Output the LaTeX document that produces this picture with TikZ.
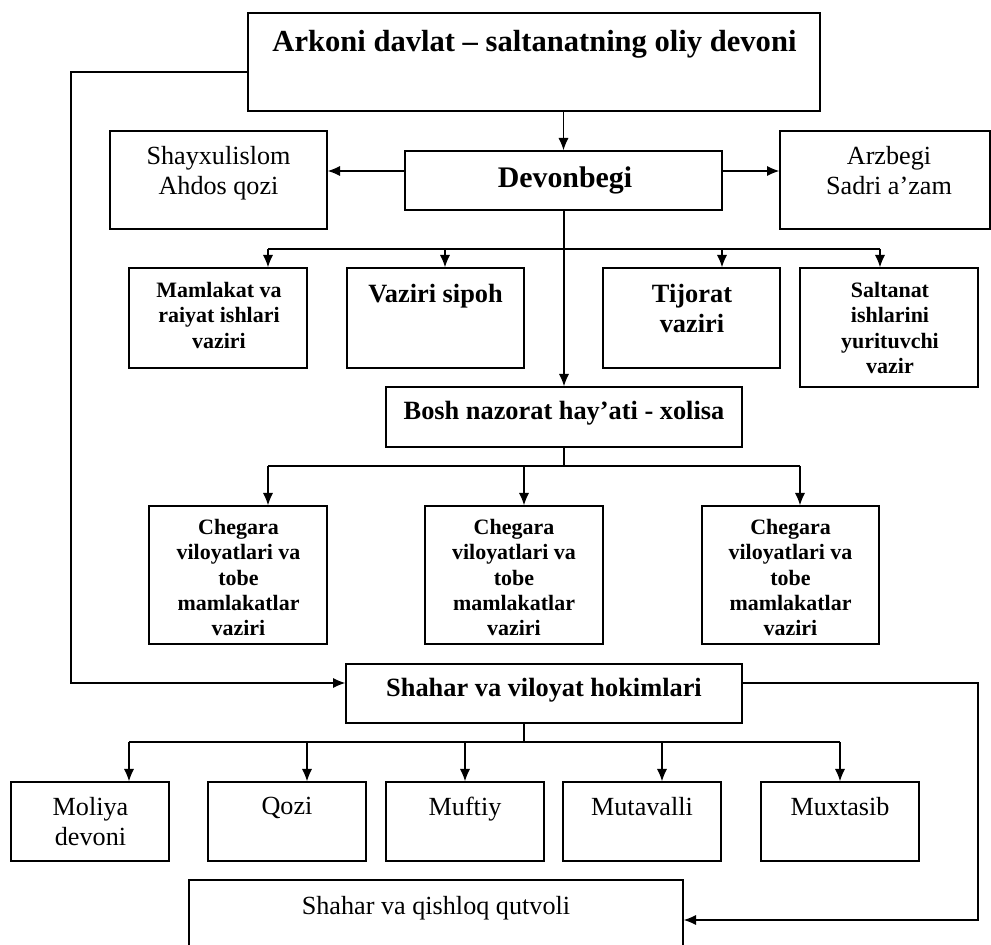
\documentclass[tikz,border=0pt]{standalone}
\usepackage{fontspec}
\setmainfont{Liberation Serif}
\usetikzlibrary{arrows.meta,calc}

\begin{document}
\begin{tikzpicture}[x=0.02cm,y=-0.02cm,
    box/.style={draw,line width=0.8pt,inner sep=0pt},
    lbl/.style={inner sep=0pt,align=center,anchor=north},
    arr/.style={line width=0.7pt,-{Latex[length=7pt,width=5.8pt]}},
    ln/.style={line width=0.7pt},
    big/.style={font=\fontsize{17.4}{20}\selectfont\bfseries},
    mid/.style={font=\fontsize{15}{17}\selectfont\bfseries},
    sml/.style={font=\fontsize{12.5}{14.4}\selectfont\bfseries},
    nrm/.style={font=\fontsize{14.9}{17.2}\selectfont}]
    \clip (0,0) rectangle (991,945);
    % boxes
    \node[box,minimum width=572*0.02cm,minimum height=98*0.02cm] (arkoni) at (534,62) {};
    \node[box,minimum width=217*0.02cm,minimum height=98*0.02cm] (shayx) at (218.5,180) {};
    \node[box,minimum width=317*0.02cm,minimum height=59*0.02cm] (devon) at (563.5,180.5) {};
    \node[box,minimum width=210*0.02cm,minimum height=98*0.02cm] (arz) at (885,180) {};
    \node[box,minimum width=178*0.02cm,minimum height=100*0.02cm] (mam) at (218,318) {};
    \node[box,minimum width=177*0.02cm,minimum height=100*0.02cm] (sipoh) at (435.5,318) {};
    \node[box,minimum width=177*0.02cm,minimum height=100*0.02cm] (tij) at (691.5,318) {};
    \node[box,minimum width=178*0.02cm,minimum height=119*0.02cm] (salt) at (889,327.5) {};
    \node[box,minimum width=356*0.02cm,minimum height=60*0.02cm] (bosh) at (564,417) {};
    \node[box,minimum width=178*0.02cm,minimum height=138*0.02cm] (cheg1) at (238,575) {};
    \node[box,minimum width=178*0.02cm,minimum height=138*0.02cm] (cheg2) at (514,575) {};
    \node[box,minimum width=177*0.02cm,minimum height=138*0.02cm] (cheg3) at (790.5,575) {};
    \node[box,minimum width=396*0.02cm,minimum height=59*0.02cm] (shahar) at (544,693.5) {};
    \node[box,minimum width=158*0.02cm,minimum height=79*0.02cm] (moliya) at (90,821.5) {};
    \node[box,minimum width=158*0.02cm,minimum height=79*0.02cm] (qozi) at (287,821.5) {};
    \node[box,minimum width=158*0.02cm,minimum height=79*0.02cm] (muftiy) at (465,821.5) {};
    \node[box,minimum width=158*0.02cm,minimum height=79*0.02cm] (mutav) at (642,821.5) {};
    \node[box,minimum width=158*0.02cm,minimum height=79*0.02cm] (muxt) at (840,821.5) {};
    \node[box,minimum width=494*0.02cm,minimum height=100*0.02cm] (qutv) at (436,930) {};
    % texts
    \node[lbl,big] (arkoni-t) at (534.5,30) {Arkoni davlat -- saltanatning oliy devoni};
    \node[lbl,nrm] (shayx-t) at (218.5,146) {Shayxulislom\\Ahdos qozi};
    \node[lbl,font=\fontsize{17}{20}\selectfont\bfseries] (devon-t) at (565,166) {Devonbegi};
    \node[lbl,nrm] (arz-t) at (889,146) {Arzbegi\\Sadri a’zam};
    \node[lbl,sml] (mam-t) at (219,282) {Mamlakat va\\raiyat ishlari\\vaziri};
    \node[lbl,mid] (sipoh-t) at (435.5,284) {Vaziri sipoh};
    \node[lbl,mid] (tij-t) at (692,284) {Tijorat\\vaziri};
    \node[lbl,sml] (salt-t) at (890,282) {Saltanat\\ishlarini\\yurituvchi\\vazir};
    \node[lbl,mid] (bosh-t) at (564,401) {Bosh nazorat hay’ati - xolisa};
    \node[lbl,sml] (cheg1-t) at (238.5,519) {Chegara\\viloyatlari va\\tobe\\mamlakatlar\\vaziri};
    \node[lbl,sml] (cheg2-t) at (514,519) {Chegara\\viloyatlari va\\tobe\\mamlakatlar\\vaziri};
    \node[lbl,sml] (cheg3-t) at (790.5,519) {Chegara\\viloyatlari va\\tobe\\mamlakatlar\\vaziri};
    \node[lbl,mid] (shahar-t) at (544,678) {Shahar va viloyat hokimlari};
    \node[lbl,nrm] (moliya-t) at (90.5,797) {Moliya\\devoni};
    \node[lbl,nrm] (qozi-t) at (287,797) {Qozi};
    \node[lbl,nrm] (muftiy-t) at (465,797) {Muftiy};
    \node[lbl,nrm] (mutav-t) at (642,797) {Mutavalli};
    \node[lbl,nrm] (muxt-t) at (840,797) {Muxtasib};
    \node[lbl,nrm] (qutv-t) at (436,896) {Shahar va qishloq qutvoli};
    % connectors
    \coordinate (ltop) at (71,72);
    \coordinate (lbot) at (71,683);
    \coordinate (rtop) at (978,683);
    \coordinate (rbot) at (978,920);
    \coordinate (side) at (563,171);
    \coordinate (bus1) at (563,249);
    \coordinate (bus2) at (563,466);
    \coordinate (bus3) at (524,742);
    \draw[arr] (arkoni.west |- ltop) -- (ltop) -- (lbot) -- (shahar.west |- lbot);
    \draw[arr] (shahar.east |- rtop) -- (rtop) -- (rbot) -- (qutv.east |- rbot);
    \draw[arr] (devon.north |- arkoni.south) -- (devon.north);
    \draw[arr] (devon.west |- side) -- (shayx.east |- side);
    \draw[arr] (devon.east |- side) -- (arz.west |- side);
    \draw[arr] (bosh.north |- devon.south) -- (bosh.north);
    % entry points on the boxes
    \foreach \b/\d in {mam/50,sipoh/9.5,tij/30.5,salt/-9,cheg1/30,cheg2/10,cheg3/9.5,
                       moliya/39,qozi/20,muftiy/0,mutav/20,muxt/0}
        \coordinate (\b-in) at ($(\b.north)+(\d,0)$);
    % ministers
    \draw[ln] (mam-in |- bus1) -- (salt-in |- bus1);
    \foreach \b in {mam,sipoh,tij,salt}
        \draw[arr] (\b-in |- bus1) -- (\b-in);
    % border ministers
    \draw[ln] (bosh.south) -- (bosh.south |- bus2);
    \draw[ln] (cheg1-in |- bus2) -- (cheg3-in |- bus2);
    \foreach \b in {cheg1,cheg2,cheg3}
        \draw[arr] (\b-in |- bus2) -- (\b-in);
    % city officials
    \draw[ln] (shahar.south -| bus3) -- (bus3);
    \draw[ln] (moliya-in |- bus3) -- (muxt-in |- bus3);
    \foreach \b in {moliya,qozi,muftiy,mutav,muxt}
        \draw[arr] (\b-in |- bus3) -- (\b-in);
\end{tikzpicture}
\end{document}
